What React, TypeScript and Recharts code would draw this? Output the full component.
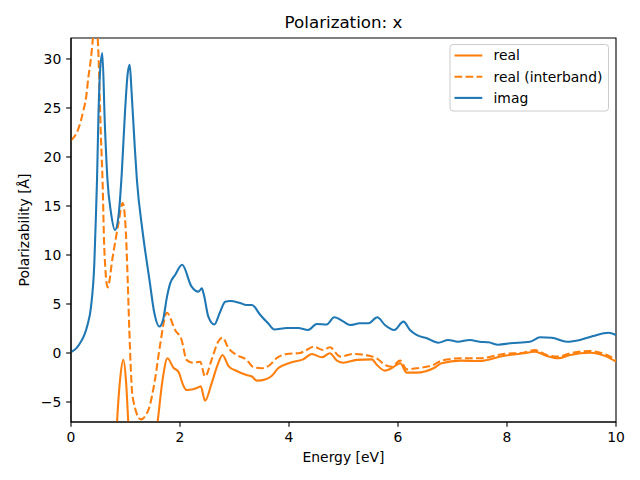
import React from 'react';
import { LineChart, Line, XAxis, YAxis, Legend, ReferenceArea } from 'recharts';

const FONT = '"DejaVu Sans", sans-serif';
const ORANGE = '#ff7f0e';
const BLUE = '#1f77b4';
const LW = 2.08;
const DASH = '7.7 3.33';
const FS = 13.9;

const xTicks = [0, 2, 4, 6, 8, 10];
const yTicks = [-5, 0, 5, 10, 15, 20, 25, 30];
const xDomain = [0, 10];
const yDomain = [-7.04, 32.14];

const realE = [0.05, 0.3, 0.5, 0.7, 0.8, 0.845, 0.9, 0.96, 1.01, 1.05, 1.1, 1.2, 1.35, 1.5, 1.59, 1.68, 1.77, 1.88, 1.97, 2.06, 2.12, 2.24, 2.34, 2.38, 2.46, 2.58, 2.7, 2.78, 2.89, 3.04, 3.22, 3.32, 3.41, 3.56, 3.68, 3.8, 4.02, 4.26, 4.42, 4.6, 4.75, 4.88, 5.0, 5.24, 5.52, 5.61, 5.76, 5.88, 6.04, 6.16, 6.34, 6.65, 6.8, 7.14, 7.5, 7.93, 8.3, 8.51, 8.73, 8.94, 9.16, 9.52, 9.83, 10.0];
const realV = [-300, -150, -50, -25, -12, -7.0, -2.75, -0.7, -2.9, -7.0, -12, -20, -16, -11, -7.0, -2.75, -0.54, -1.5, -1.9, -3.3, -3.78, -3.7, -3.5, -3.4, -4.87, -3.1, -1.05, -0.2, -1.33, -1.84, -2.24, -2.4, -2.82, -2.7, -2.35, -1.56, -0.99, -0.65, -0.1, -0.44, -0.03, -0.78, -0.99, -0.7, -0.65, -1.2, -1.8, -1.56, -1.05, -2.0, -2.0, -1.56, -1.05, -0.78, -0.82, -0.3, -0.03, 0.13, -0.3, -0.54, -0.2, 0.03, -0.37, -0.88];

const interE = [0, 0.13, 0.23, 0.275, 0.32, 0.367, 0.4, 0.44, 0.49, 0.55, 0.58, 0.61, 0.673, 0.765, 0.87, 0.948, 1.0, 1.04, 1.07, 1.13, 1.28, 1.42, 1.54, 1.63, 1.76, 1.91, 2.03, 2.12, 2.24, 2.37, 2.46, 2.58, 2.7, 2.78, 2.89, 3.04, 3.22, 3.35, 3.5, 3.65, 3.77, 3.96, 4.2, 4.32, 4.45, 4.63, 4.75, 4.94, 5.18, 5.49, 5.61, 5.76, 5.88, 6.04, 6.16, 6.34, 6.65, 6.8, 7.14, 7.5, 7.93, 8.3, 8.51, 8.73, 8.94, 9.16, 9.52, 9.83, 10.0];
const interV = [21.7, 22.8, 24.8, 26.0, 28.2, 30.1, 32.0, 34, 32.1, 21.9, 17.4, 10.8, 6.7, 9.8, 13.2, 15.3, 13.0, 7.5, 2.35, -4.46, -6.77, -5.8, -2.75, 0.65, 4.1, 2.35, 1.33, -0.7, -1.0, -0.9, -2.4, -0.7, 1.15, 1.56, 0.48, -0.2, -0.7, -1.46, -1.56, -1.22, -0.54, -0.1, 0.0, 0.3, 0.65, 0.3, 0.58, -0.37, -0.1, -0.3, -0.54, -1.22, -1.4, -0.78, -1.67, -1.56, -1.22, -0.78, -0.54, -0.54, -0.1, 0.03, 0.3, -0.2, -0.37, -0.03, 0.2, -0.2, -0.7];

const imagE = [0, 0.1, 0.165, 0.245, 0.3, 0.367, 0.428, 0.459, 0.477, 0.505, 0.53, 0.575, 0.62, 0.67, 0.734, 0.807, 0.87, 0.93, 0.99, 1.04, 1.077, 1.11, 1.17, 1.21, 1.31, 1.44, 1.53, 1.62, 1.69, 1.76, 1.82, 1.91, 2.04, 2.21, 2.34, 2.4, 2.44, 2.52, 2.63, 2.73, 2.83, 2.92, 3.1, 3.22, 3.32, 3.47, 3.62, 3.73, 3.96, 4.17, 4.35, 4.51, 4.69, 4.83, 5.0, 5.12, 5.3, 5.46, 5.62, 5.76, 5.93, 6.1, 6.22, 6.34, 6.53, 6.74, 6.92, 7.1, 7.32, 7.5, 7.66, 7.84, 8.06, 8.42, 8.61, 8.82, 9.1, 9.34, 9.58, 9.86, 10.0];
const imagV = [0.1, 0.5, 1.0, 1.84, 2.8, 4.7, 9.15, 14.3, 17.6, 24.5, 28.4, 30.6, 23.5, 17.6, 14.3, 12.55, 13.9, 18.2, 24.5, 28.5, 29.4, 26.8, 21.0, 17.6, 12.55, 7.45, 4.05, 2.7, 3.4, 5.7, 7.1, 7.96, 9.0, 6.8, 6.26, 6.6, 5.9, 3.7, 2.9, 4.1, 5.24, 5.3, 5.1, 4.9, 4.9, 3.9, 3.0, 2.4, 2.55, 2.55, 2.35, 2.96, 2.9, 3.64, 3.2, 2.86, 3.03, 3.03, 3.64, 2.86, 2.35, 3.2, 2.35, 1.84, 1.5, 1.05, 1.33, 1.15, 1.33, 1.15, 1.09, 0.85, 0.99, 1.15, 1.6, 1.56, 1.15, 1.33, 1.73, 2.07, 1.84];

const zip = (es: number[], vs: number[]) => es.map((e, i) => ({ e, v: vs[i] }));
const realData = zip(realE, realV);
const interData = zip(interE, interV);
const imagData = zip(imagE, imagV);

const legendItems = [
  { name: 'real', color: ORANGE, dash: undefined as string | undefined },
  { name: 'real (interband)', color: ORANGE, dash: DASH },
  { name: 'imag', color: BLUE, dash: undefined as string | undefined },
];

const fmt = (v: number) => String(v).replace('-', '\u2212');

const LegendBox = () => (
  <svg width={162} height={70} style={{ display: 'block' }}>
    <rect x={1} y={0.5} width={158.5} height={66.5} rx={3} ry={3} fill="#ffffff" fillOpacity={0.8} stroke="#cccccc" strokeWidth={1} />
    {legendItems.map((it, i) => {
      const cy = 11.5 + i * 21.2;
      return (
        <g key={it.name}>
          <line x1={5.5} x2={33.3} y1={cy} y2={cy} stroke={it.color} strokeWidth={LW} strokeDasharray={it.dash} />
          <text x={44.5} y={cy} dy="0.35em" fontFamily={FONT} fontSize={FS} fill="#000">{it.name}</text>
        </g>
      );
    })}
  </svg>
);

const Texts = () => (
  <g>
    <text x={343.5} y={28} textAnchor="middle" fontFamily={FONT} fontSize={16.7} fill="#000">Polarization: x</text>
    <text x={343.5} y={462} textAnchor="middle" fontFamily={FONT} fontSize={FS} fill="#000">Energy [eV]</text>
  </g>
);

export default function App() {
  return (
    <div style={{ position: 'absolute', left: 0, top: 0, width: 640, height: 480, background: '#fff' }}>
      <LineChart width={640} height={480} margin={{ top: 38, right: 24, bottom: 28, left: 21 }}>
        <XAxis
          dataKey="e"
          type="number"
          domain={xDomain}
          ticks={xTicks}
          allowDataOverflow
          height={30}
          tickSize={4.86}
          tickMargin={4.86}
          tick={{ fill: '#000', fontSize: FS, fontFamily: FONT }}
          tickLine={{ stroke: '#000', strokeWidth: 1.1 }}
          axisLine={{ stroke: '#000', strokeWidth: 1.1 }}
          label={{ content: () => <Texts /> }}
        />
        <YAxis
          type="number"
          domain={yDomain}
          ticks={yTicks}
          allowDataOverflow
          width={50}
          tickSize={4.86}
          tickMargin={4.86}
          tickFormatter={fmt}
          tick={{ fill: '#000', fontSize: FS, fontFamily: FONT }}
          tickLine={{ stroke: '#000', strokeWidth: 1.1 }}
          axisLine={{ stroke: '#000', strokeWidth: 1.1 }}
          label={{
            content: () => (
              <text x={29} y={230} transform="rotate(-90, 29, 230)" textAnchor="middle" fontFamily={FONT} fontSize={FS} fill="#000">Polarizability [Å]</text>
            ),
          }}
        />
        <Line data={realData} dataKey="v" name="real" type="monotone" stroke={ORANGE} strokeWidth={LW} dot={false} activeDot={false} isAnimationActive={false} />
        <Line data={interData} dataKey="v" name="real (interband)" type="monotone" stroke={ORANGE} strokeWidth={LW} strokeDasharray={DASH} dot={false} activeDot={false} isAnimationActive={false} />
        <Line data={imagData} dataKey="v" name="imag" type="monotone" stroke={BLUE} strokeWidth={LW} dot={false} activeDot={false} isAnimationActive={false} />
        <ReferenceArea
          x1={xDomain[0]}
          x2={xDomain[1]}
          y1={yDomain[0]}
          y2={yDomain[1]}
          fill="none"
          fillOpacity={0}
          stroke="#000"
          strokeWidth={1.1}
          ifOverflow="visible"
        />
        <Legend
          layout="vertical"
          align="center"
          verticalAlign="middle"
          content={() => <LegendBox />}
          wrapperStyle={{ left: 449, top: 44, width: 162, height: 70 }}
        />
      </LineChart>
    </div>
  );
}
